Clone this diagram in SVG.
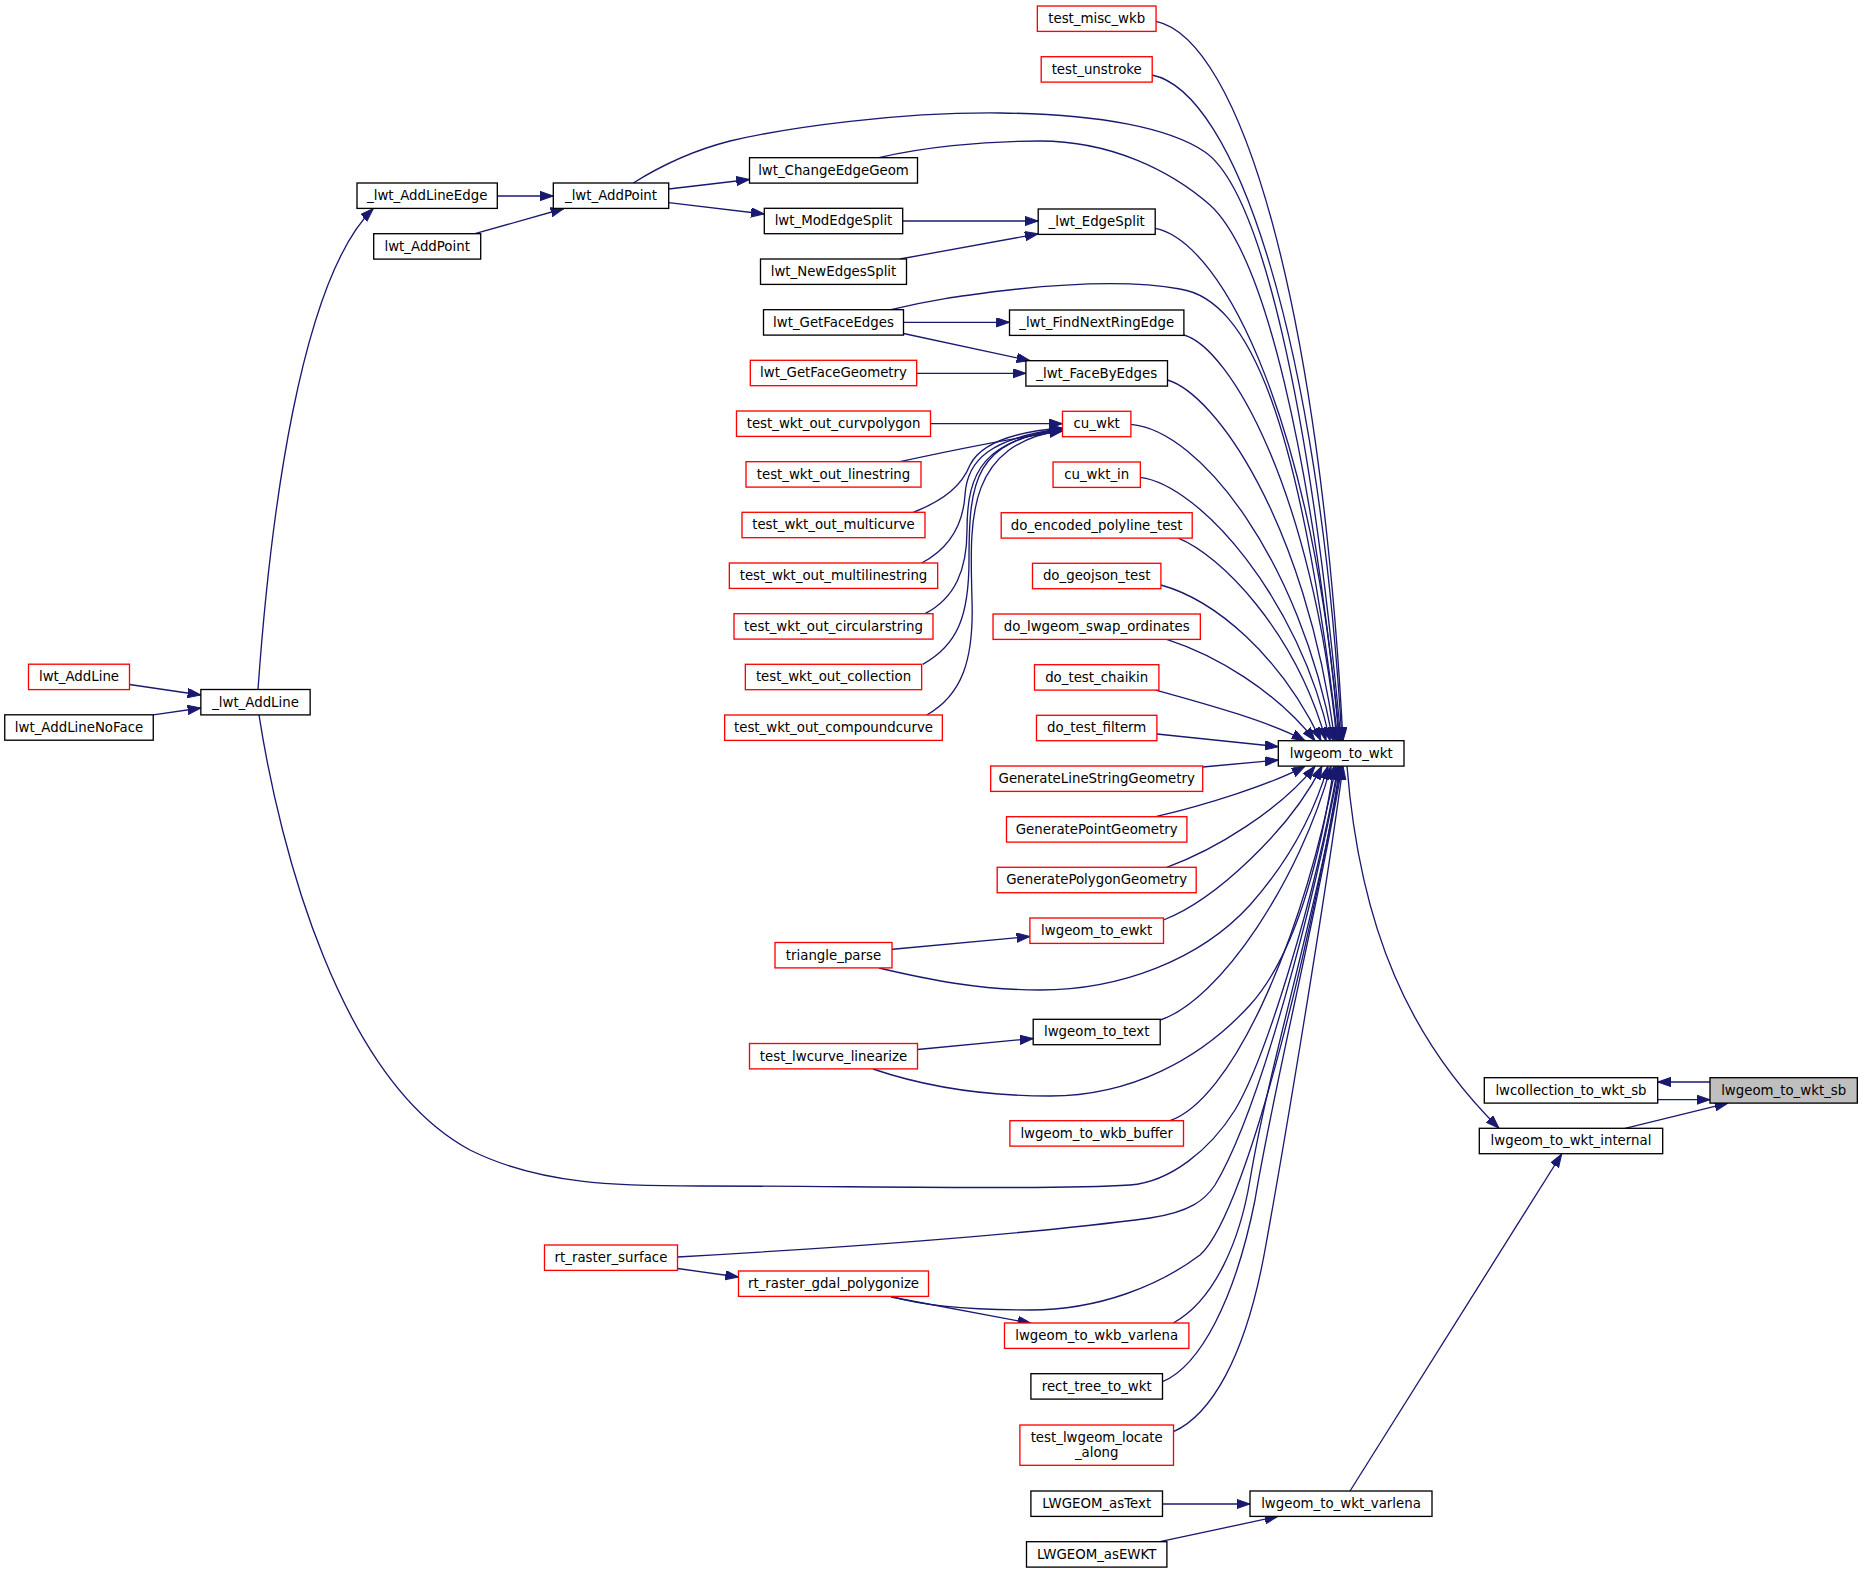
<svg xmlns="http://www.w3.org/2000/svg" width="1863" height="1573" viewBox="0 0 1863 1573">
<style>
.n rect{fill:#ffffff;stroke-width:1.33}
.k rect{stroke:#000000}
.r rect{stroke:#ff0000}
.root rect{fill:#bfbfbf;stroke:#000000}
.n text{font-family:"DejaVu Sans","Liberation Sans",sans-serif;font-size:13.33px;text-anchor:middle;fill:#000000}
#edges path{fill:none;stroke:#191970;stroke-width:1.33;marker-end:url(#ah)}
</style>
<defs>
<marker id="ah" markerUnits="userSpaceOnUse" markerWidth="14" markerHeight="10" refX="13.3" refY="4.65" orient="auto" viewBox="0 0 14 10">
<path d="M0,0 L13.3,4.65 L0,9.3 z" fill="#191970" stroke="#191970" stroke-width="1"/>
</marker>
</defs>
<rect x="0" y="0" width="1863" height="1573" fill="#ffffff"/>
<g id="edges">
<path d="M1710,1082 L1657.7,1082"/>
<path d="M1657.7,1099.7 L1710,1099.7"/>
<path d="M1625,1128.3 L1728,1103.1"/>
<path d="M1347,766 C1360,930 1410,1040 1499,1128.3"/>
<path d="M1350,1491 L1561.7,1154"/>
<path d="M1162.3,1504 L1250,1504"/>
<path d="M1160,1541.7 L1278,1516.4"/>
<path d="M1156,21.3 C1240,39 1320,302 1343,740.7"/>
<path d="M1152,75 C1235,92 1318,335 1342,740.7"/>
<path d="M1155.2,228.3 C1225,242 1315,430 1339,740.7"/>
<path d="M1183.9,335 C1230,348 1312,490 1337,740.7"/>
<path d="M1167.5,380 C1215,394 1305,520 1335,740.7"/>
<path d="M1130.9,424.3 C1200,430 1300,560 1333,740.7"/>
<path d="M1140.3,477.3 C1200,485 1300,600 1330,740.7"/>
<path d="M1178.3,538.1 C1220,555 1295,630 1326,740.7"/>
<path d="M1160.9,585 C1215,600 1280,655 1321,740.7"/>
<path d="M1166.7,639.4 C1215,655 1275,690 1315,740.7"/>
<path d="M1155.7,690.1 C1210,705 1270,722 1305,740.7"/>
<path d="M1156.9,734 L1278.3,746.7"/>
<path d="M1202.7,767 L1278.3,760"/>
<path d="M1155.7,816.7 C1205,805 1270,785 1305,766.1"/>
<path d="M1166.7,867.3 C1215,850 1280,810 1315,766.1"/>
<path d="M1163.5,920 C1215,900 1290,830 1322,766.1"/>
<path d="M1160.2,1020 C1220,1000 1300,880 1331,766.1"/>
<path d="M1170,1120.7 C1230,1100 1300,950 1336,766.1"/>
<path d="M633.3,183 C665,163 695,150 730,141 C790,127 900,112 1000,113 C1100,114 1170,128 1205,152 C1260,190 1310,400 1341,740.7"/>
<path d="M879,157.7 C920,148 980,141 1040,141 C1110,141 1170,170 1210,205 C1265,255 1310,450 1340,740.7"/>
<path d="M891,309.7 C930,300 960,296 1000,291 C1060,284 1130,280 1180,289 C1250,300 1300,420 1338,740.7"/>
<path d="M879,968 C930,980 980,990 1040,990 C1120,990 1200,960 1250,905 C1290,860 1315,810 1328,766.1"/>
<path d="M873,1069 C920,1085 980,1096 1050,1096 C1130,1096 1200,1060 1250,1005 C1295,955 1320,860 1334,766.1"/>
<path d="M259,714.9 C280,850 340,1080 470,1150 C540,1185 620,1186 700,1186 C850,1186 1050,1190 1130,1185 C1170,1182 1210,1150 1235,1110 C1265,1060 1315,900 1338,766.1"/>
<path d="M677.5,1257 C800,1250 1000,1238 1150,1218 C1190,1212 1205,1200 1215,1185 C1260,1110 1315,900 1339,766.1"/>
<path d="M891,1296.4 C920,1305 960,1310 1030,1310 C1100,1310 1160,1285 1200,1255 C1250,1210 1320,900 1340,766.1"/>
<path d="M1173.3,1323 C1215,1300 1240,1240 1250,1180 C1270,1060 1320,900 1341,766.1"/>
<path d="M1162.5,1381.7 C1200,1366 1235,1300 1255,1200 C1275,1080 1320,900 1342,766.1"/>
<path d="M1173.5,1431.7 C1210,1415 1245,1360 1265,1250 C1285,1140 1325,900 1343,766.1"/>
<path d="M902.7,221 L1038.2,221"/>
<path d="M900,259 L1038.2,233.8"/>
<path d="M903.5,322.3 L1009.5,322.3"/>
<path d="M903.5,333.5 L1030,360.7"/>
<path d="M916.7,373.3 L1025.9,373.3"/>
<path d="M930.5,423.7 L1062.5,423.7"/>
<path d="M900,461.7 C940,453 1000,440 1062.5,431"/>
<path d="M913.3,512.3 C945,500 962,485 970,465 C980,445 1010,432 1062.5,428"/>
<path d="M921.7,563 C950,548 963,525 965,495 C967,460 990,438 1062.5,428.5"/>
<path d="M925,613.7 C955,598 967,570 967,530 C967,470 985,440 1062.5,429"/>
<path d="M922.7,664.3 C958,645 969,615 969,560 C969,480 975,440 1062.5,429.5"/>
<path d="M926.7,715 C962,695 974,660 972,600 C970,520 965,445 1062.5,430"/>
<path d="M890,949.5 L1029.9,936.5"/>
<path d="M917.5,1049.5 L1033.2,1038.5"/>
<path d="M677.5,1268.5 L738.5,1277"/>
<path d="M891,1297 L1031,1323.3"/>
<path d="M497.3,196 L553.3,196"/>
<path d="M475,233.7 L564,208.5"/>
<path d="M668.7,189 L749.5,179.5"/>
<path d="M668.7,202.7 L764.3,214"/>
<path d="M258,689.5 C270,520 300,280 373.3,208.5"/>
<path d="M129.5,684.5 L200.9,695"/>
<path d="M153.3,714.8 L200.9,708"/>
</g>
<g id="lwgeom_to_wkt_sb" class="n root"><rect x="1710" y="1077.7" width="147.3" height="25.4"/><text x="1783.7" y="1094.7">lwgeom_to_wkt_sb</text></g>
<g id="lwcollection_to_wkt_sb" class="n k"><rect x="1484.3" y="1077.7" width="173.4" height="25.4"/><text x="1571" y="1094.7">lwcollection_to_wkt_sb</text></g>
<g id="lwgeom_to_wkt_internal" class="n k"><rect x="1479.3" y="1128.3" width="183.4" height="25.4"/><text x="1571" y="1145.3">lwgeom_to_wkt_internal</text></g>
<g id="lwgeom_to_wkt" class="n k"><rect x="1278.3" y="740.7" width="125.7" height="25.4"/><text x="1341.2" y="757.7">lwgeom_to_wkt</text></g>
<g id="lwgeom_to_wkt_varlena" class="n k"><rect x="1250" y="1491" width="182" height="25.4"/><text x="1341" y="1508">lwgeom_to_wkt_varlena</text></g>
<g id="test_misc_wkb" class="n r"><rect x="1037.35" y="6" width="118.7" height="25.4"/><text x="1096.7" y="23">test_misc_wkb</text></g>
<g id="test_unstroke" class="n r"><rect x="1041.2" y="56.7" width="111" height="25.4"/><text x="1096.7" y="73.7">test_unstroke</text></g>
<g id="_lwt_EdgeSplit" class="n k"><rect x="1038.2" y="209" width="117" height="25.4"/><text x="1096.7" y="226">_lwt_EdgeSplit</text></g>
<g id="_lwt_FindNextRingEdge" class="n k"><rect x="1009.5" y="310" width="174.4" height="25.4"/><text x="1096.7" y="327">_lwt_FindNextRingEdge</text></g>
<g id="_lwt_FaceByEdges" class="n k"><rect x="1025.9" y="360.7" width="141.6" height="25.4"/><text x="1096.7" y="377.7">_lwt_FaceByEdges</text></g>
<g id="cu_wkt" class="n r"><rect x="1062.5" y="411.3" width="68.4" height="25.4"/><text x="1096.7" y="428.3">cu_wkt</text></g>
<g id="cu_wkt_in" class="n r"><rect x="1053.05" y="462" width="87.3" height="25.4"/><text x="1096.7" y="479">cu_wkt_in</text></g>
<g id="do_encoded_polyline_test" class="n r"><rect x="1001.2" y="512.7" width="191" height="25.4"/><text x="1096.7" y="529.7">do_encoded_polyline_test</text></g>
<g id="do_geojson_test" class="n r"><rect x="1032.5" y="563.3" width="128.4" height="25.4"/><text x="1096.7" y="580.3">do_geojson_test</text></g>
<g id="do_lwgeom_swap_ordinates" class="n r"><rect x="993.05" y="614" width="207.3" height="25.4"/><text x="1096.7" y="631">do_lwgeom_swap_ordinates</text></g>
<g id="do_test_chaikin" class="n r"><rect x="1034.5" y="664.7" width="124.4" height="25.4"/><text x="1096.7" y="681.7">do_test_chaikin</text></g>
<g id="do_test_filterm" class="n r"><rect x="1036.5" y="715.3" width="120.4" height="25.4"/><text x="1096.7" y="732.3">do_test_filterm</text></g>
<g id="GenerateLineStringGeometry" class="n r"><rect x="990.7" y="766" width="212" height="25.4"/><text x="1096.7" y="783">GenerateLineStringGeometry</text></g>
<g id="GeneratePointGeometry" class="n r"><rect x="1006.5" y="816.7" width="180.4" height="25.4"/><text x="1096.7" y="833.7">GeneratePointGeometry</text></g>
<g id="GeneratePolygonGeometry" class="n r"><rect x="997.2" y="867.3" width="199" height="25.4"/><text x="1096.7" y="884.3">GeneratePolygonGeometry</text></g>
<g id="lwgeom_to_ewkt" class="n r"><rect x="1029.9" y="918" width="133.6" height="25.4"/><text x="1096.7" y="935">lwgeom_to_ewkt</text></g>
<g id="lwgeom_to_text" class="n k"><rect x="1033.2" y="1019.3" width="127" height="25.4"/><text x="1096.7" y="1036.3">lwgeom_to_text</text></g>
<g id="lwgeom_to_wkb_buffer" class="n r"><rect x="1009.9" y="1120.7" width="173.6" height="25.4"/><text x="1096.7" y="1137.7">lwgeom_to_wkb_buffer</text></g>
<g id="lwgeom_to_wkb_varlena" class="n r"><rect x="1004.5" y="1323" width="184.4" height="25.4"/><text x="1096.7" y="1340">lwgeom_to_wkb_varlena</text></g>
<g id="rect_tree_to_wkt" class="n k"><rect x="1030.9" y="1373.7" width="131.6" height="25.4"/><text x="1096.7" y="1390.7">rect_tree_to_wkt</text></g>
<g id="test_lwgeom_locate_along" class="n r"><rect x="1019.9" y="1425" width="153.6" height="40.3"/><text x="1096.7" y="1441.5">test_lwgeom_locate</text><text x="1096.7" y="1456.5">_along</text></g>
<g id="LWGEOM_asText" class="n k"><rect x="1030.9" y="1491" width="131.6" height="25.4"/><text x="1096.7" y="1508">LWGEOM_asText</text></g>
<g id="LWGEOM_asEWKT" class="n k"><rect x="1026.5" y="1541.7" width="140.4" height="25.4"/><text x="1096.7" y="1558.7">LWGEOM_asEWKT</text></g>
<g id="lwt_ChangeEdgeGeom" class="n k"><rect x="749.5" y="157.7" width="168" height="25.4"/><text x="833.5" y="174.7">lwt_ChangeEdgeGeom</text></g>
<g id="lwt_ModEdgeSplit" class="n k"><rect x="764.3" y="208.3" width="138.4" height="25.4"/><text x="833.5" y="225.3">lwt_ModEdgeSplit</text></g>
<g id="lwt_NewEdgesSplit" class="n k"><rect x="760.5" y="259" width="146" height="25.4"/><text x="833.5" y="276">lwt_NewEdgesSplit</text></g>
<g id="lwt_GetFaceEdges" class="n k"><rect x="763.5" y="309.7" width="140" height="25.4"/><text x="833.5" y="326.7">lwt_GetFaceEdges</text></g>
<g id="lwt_GetFaceGeometry" class="n r"><rect x="750.3" y="360.3" width="166.4" height="25.4"/><text x="833.5" y="377.3">lwt_GetFaceGeometry</text></g>
<g id="test_wkt_out_curvpolygon" class="n r"><rect x="736.5" y="411" width="194" height="25.4"/><text x="833.5" y="428">test_wkt_out_curvpolygon</text></g>
<g id="test_wkt_out_linestring" class="n r"><rect x="746" y="461.7" width="175" height="25.4"/><text x="833.5" y="478.7">test_wkt_out_linestring</text></g>
<g id="test_wkt_out_multicurve" class="n r"><rect x="742" y="512.3" width="183" height="25.4"/><text x="833.5" y="529.3">test_wkt_out_multicurve</text></g>
<g id="test_wkt_out_multilinestring" class="n r"><rect x="729.35" y="563" width="208.3" height="25.4"/><text x="833.5" y="580">test_wkt_out_multilinestring</text></g>
<g id="test_wkt_out_circularstring" class="n r"><rect x="734" y="613.7" width="199" height="25.4"/><text x="833.5" y="630.7">test_wkt_out_circularstring</text></g>
<g id="test_wkt_out_collection" class="n r"><rect x="745.35" y="664.3" width="176.3" height="25.4"/><text x="833.5" y="681.3">test_wkt_out_collection</text></g>
<g id="test_wkt_out_compoundcurve" class="n r"><rect x="724.65" y="715" width="217.7" height="25.4"/><text x="833.5" y="732">test_wkt_out_compoundcurve</text></g>
<g id="triangle_parse" class="n r"><rect x="775" y="942.5" width="117" height="25.4"/><text x="833.5" y="959.5">triangle_parse</text></g>
<g id="test_lwcurve_linearize" class="n r"><rect x="749.5" y="1043.5" width="168" height="25.4"/><text x="833.5" y="1060.5">test_lwcurve_linearize</text></g>
<g id="rt_raster_gdal_polygonize" class="n r"><rect x="738.5" y="1271" width="190" height="25.4"/><text x="833.5" y="1288">rt_raster_gdal_polygonize</text></g>
<g id="_lwt_AddPoint" class="n k"><rect x="553.3" y="183" width="115.4" height="25.4"/><text x="611" y="200">_lwt_AddPoint</text></g>
<g id="rt_raster_surface" class="n r"><rect x="544.5" y="1245" width="133" height="25.4"/><text x="611" y="1262">rt_raster_surface</text></g>
<g id="_lwt_AddLineEdge" class="n k"><rect x="357" y="183" width="140.3" height="25.4"/><text x="427.2" y="200">_lwt_AddLineEdge</text></g>
<g id="lwt_AddPoint" class="n k"><rect x="373.7" y="233.7" width="107" height="25.4"/><text x="427.2" y="250.7">lwt_AddPoint</text></g>
<g id="_lwt_AddLine" class="n k"><rect x="200.85" y="689.5" width="109.3" height="25.4"/><text x="255.5" y="706.5">_lwt_AddLine</text></g>
<g id="lwt_AddLine" class="n r"><rect x="28.5" y="664.2" width="101" height="25.4"/><text x="79" y="681.2">lwt_AddLine</text></g>
<g id="lwt_AddLineNoFace" class="n k"><rect x="4.75" y="714.8" width="148.5" height="25.4"/><text x="79" y="731.8">lwt_AddLineNoFace</text></g>
</svg>
